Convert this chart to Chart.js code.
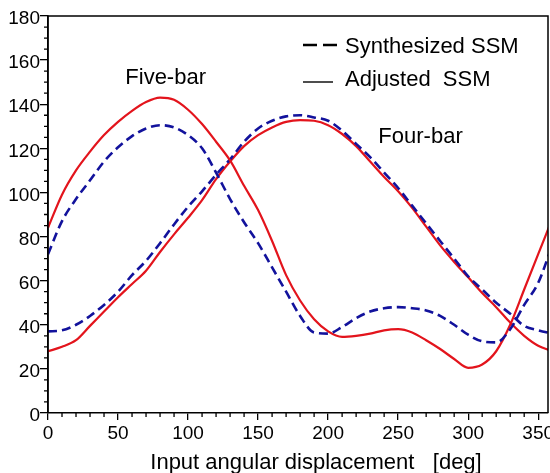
<!DOCTYPE html>
<html>
<head>
<meta charset="utf-8">
<script src="https://cdn.jsdelivr.net/npm/chart.js@4.4.0/dist/chart.umd.min.js"></script>
<style>
  html, body { margin: 0; padding: 0; background: #fff; }
  #wrap { width: 550px; height: 473px; }
</style>
</head>
<body>
<div id="wrap"><canvas id="chart" width="550" height="473"></canvas></div>
<script>
// input angle, deg
const angles = [0, 10, 20, 30, 40, 50, 60, 70, 80, 90, 100, 110, 120, 130, 140, 150, 160, 170, 180,
  190, 200, 210, 220, 230, 240, 250, 260, 270, 280, 290, 300, 310, 320, 330, 340, 350, 360];

// five-bar curves
const fiveBarSynth = [72, 87, 97, 105.5, 114, 120.5, 125.5, 129, 130.5, 129.5, 126, 120, 109, 97, 86.5, 77, 66, 55, 44,
  36.5, 36, 39, 43, 46, 47.5, 48, 47.5, 46.5, 44, 40, 35.5, 32.5, 32, 38, 49, 59, 76];
const fiveBarAdj = [84, 99, 110, 118.5, 126, 132, 137, 141, 143, 142, 137.5, 131, 123, 114.5, 103, 92, 78, 62.5, 51,
  42.5, 37, 34.5, 35, 36, 37.5, 38, 36.5, 33, 29, 24.5, 20.5, 22, 28, 40, 56, 72, 88];

// four-bar curves
const fourBarSynth = [37, 37.5, 40, 44, 49, 55, 62.5, 69, 77, 85.5, 93.5, 100.5, 108, 115, 123, 129, 132.5, 134.5, 135,
  134, 132.5, 128, 122, 116, 109, 102, 94, 86, 78, 70, 62, 56, 50, 45, 39.5, 37.5, 36];
const fourBarAdj = [28, 30, 33, 39.5, 46, 52.5, 58.5, 64.5, 73, 81, 88.5, 96.5, 106, 114, 121, 126, 129.5, 132, 132.8,
  132.5, 130.5, 126.5, 121, 114, 107, 100.5, 93, 84.5, 76, 68.5, 61.5, 54.4, 48, 41, 35, 30.5, 28];

const xTicks = [0, 50, 100, 150, 200, 250, 300, 350];
const yTicks = [0, 20, 40, 60, 80, 100, 120, 140, 160, 180];

const RED = '#e3141c';
const BLUE = '#12129c';
const TEXT_FONT = '22px "Liberation Sans", Arial, sans-serif';
const TICK_FONT = { family: '"Liberation Sans", Arial', size: 19 };

const toPoints = (ys) => angles.map((a, i) => ({ x: a, y: ys[i] }));

const synthStyle = { borderColor: BLUE, borderWidth: 2.6, borderDash: [9, 5] };
const adjStyle = { borderColor: RED, borderWidth: 2.2 };

// frame, minor ticks, legend and annotations
const extras = {
  id: 'extras',
  afterDraw(chart) {
    const { ctx, chartArea: a, scales: { x, y } } = chart;
    ctx.save();
    ctx.strokeStyle = '#000';
    ctx.lineWidth = 1.5;
    ctx.beginPath();
    ctx.moveTo(a.left, a.bottom);
    ctx.lineTo(a.left, a.top);
    ctx.lineTo(a.right, a.top);
    ctx.lineTo(a.right, a.bottom);
    ctx.stroke();

    // minor ticks
    ctx.lineWidth = 1.3;
    ctx.beginPath();
    for (let v = 10; v < 360; v += 10) {
      if (v % 50 === 0) continue;
      const px = x.getPixelForValue(v);
      if (px > a.right) break;
      ctx.moveTo(px, a.bottom);
      ctx.lineTo(px, a.bottom + 4);
    }
    for (let v = 5; v < 180; v += 5) {
      if (v % 20 === 0) continue;
      const py = y.getPixelForValue(v);
      ctx.moveTo(a.left, py);
      ctx.lineTo(a.left - 4, py);
    }
    ctx.stroke();

    // legend
    ctx.lineWidth = 2.4;
    ctx.beginPath();
    ctx.moveTo(303, 45); ctx.lineTo(317, 45);
    ctx.moveTo(323, 45); ctx.lineTo(337, 45);
    ctx.stroke();
    ctx.lineWidth = 1.4;
    ctx.beginPath();
    ctx.moveTo(303, 82); ctx.lineTo(333, 82);
    ctx.stroke();

    ctx.fillStyle = '#000';
    ctx.font = TEXT_FONT;
    ctx.textBaseline = 'middle';
    ctx.textAlign = 'left';
    ctx.fillText('Synthesized SSM', 345, 47);
    ctx.fillText('Adjusted  SSM', 345, 80);

    // curve labels
    ctx.textAlign = 'center';
    ctx.fillText('Five-bar', x.getPixelForValue(84), y.getPixelForValue(152));
    ctx.fillText('Four-bar', x.getPixelForValue(266), y.getPixelForValue(125));

    // x title
    ctx.font = '22px "Liberation Sans", Arial, sans-serif';
    ctx.fillText('Input angular displacement   [deg]', 316, 463);
    ctx.restore();
  }
};

new Chart(document.getElementById('chart'), {
  type: 'line',
  data: {
    datasets: [
      { label: 'Five-bar synthesized', data: toPoints(fiveBarSynth), ...synthStyle },
      { label: 'Five-bar adjusted', data: toPoints(fiveBarAdj), ...adjStyle },
      { label: 'Four-bar synthesized', data: toPoints(fourBarSynth), ...synthStyle },
      { label: 'Four-bar adjusted', data: toPoints(fourBarAdj), ...adjStyle },
    ],
  },
  options: {
    responsive: false,
    animation: false,
    devicePixelRatio: 1,
    layout: { padding: { left: 0, right: 2, top: 16, bottom: 0 } },
    elements: {
      point: { radius: 0 },
      line: { cubicInterpolationMode: 'monotone', fill: false },
    },
    plugins: {
      legend: { display: false },
      tooltip: { enabled: false },
    },
    scales: {
      x: {
        type: 'linear',
        min: 0,
        max: 357,
        afterBuildTicks: (s) => { s.ticks = xTicks.map((v) => ({ value: v })); },
        afterFit: (s) => { s.height = 60; s.paddingLeft = 0; s.paddingRight = 0; },
        grid: { drawOnChartArea: false, drawTicks: true, tickLength: 7, color: '#000', lineWidth: 1.3 },
        border: { display: true, color: '#000', width: 1.5 },
        ticks: {
          color: '#000',
          padding: 2,
          maxRotation: 0,
          autoSkip: false,
          font: TICK_FONT,
        },
      },
      y: {
        min: 0,
        max: 180,
        afterBuildTicks: (s) => { s.ticks = yTicks.map((v) => ({ value: v })); },
        afterFit: (s) => { s.width = 48; s.paddingTop = 0; s.paddingBottom = 0; },
        grid: { drawOnChartArea: false, drawTicks: true, tickLength: 8, color: '#000', lineWidth: 1.3 },
        border: { display: true, color: '#000', width: 1.5 },
        ticks: {
          color: '#000',
          padding: 0,
          labelOffset: 3,
          autoSkip: false,
          font: TICK_FONT,
        },
      },
    },
  },
  plugins: [extras],
});
</script>
</body>
</html>
